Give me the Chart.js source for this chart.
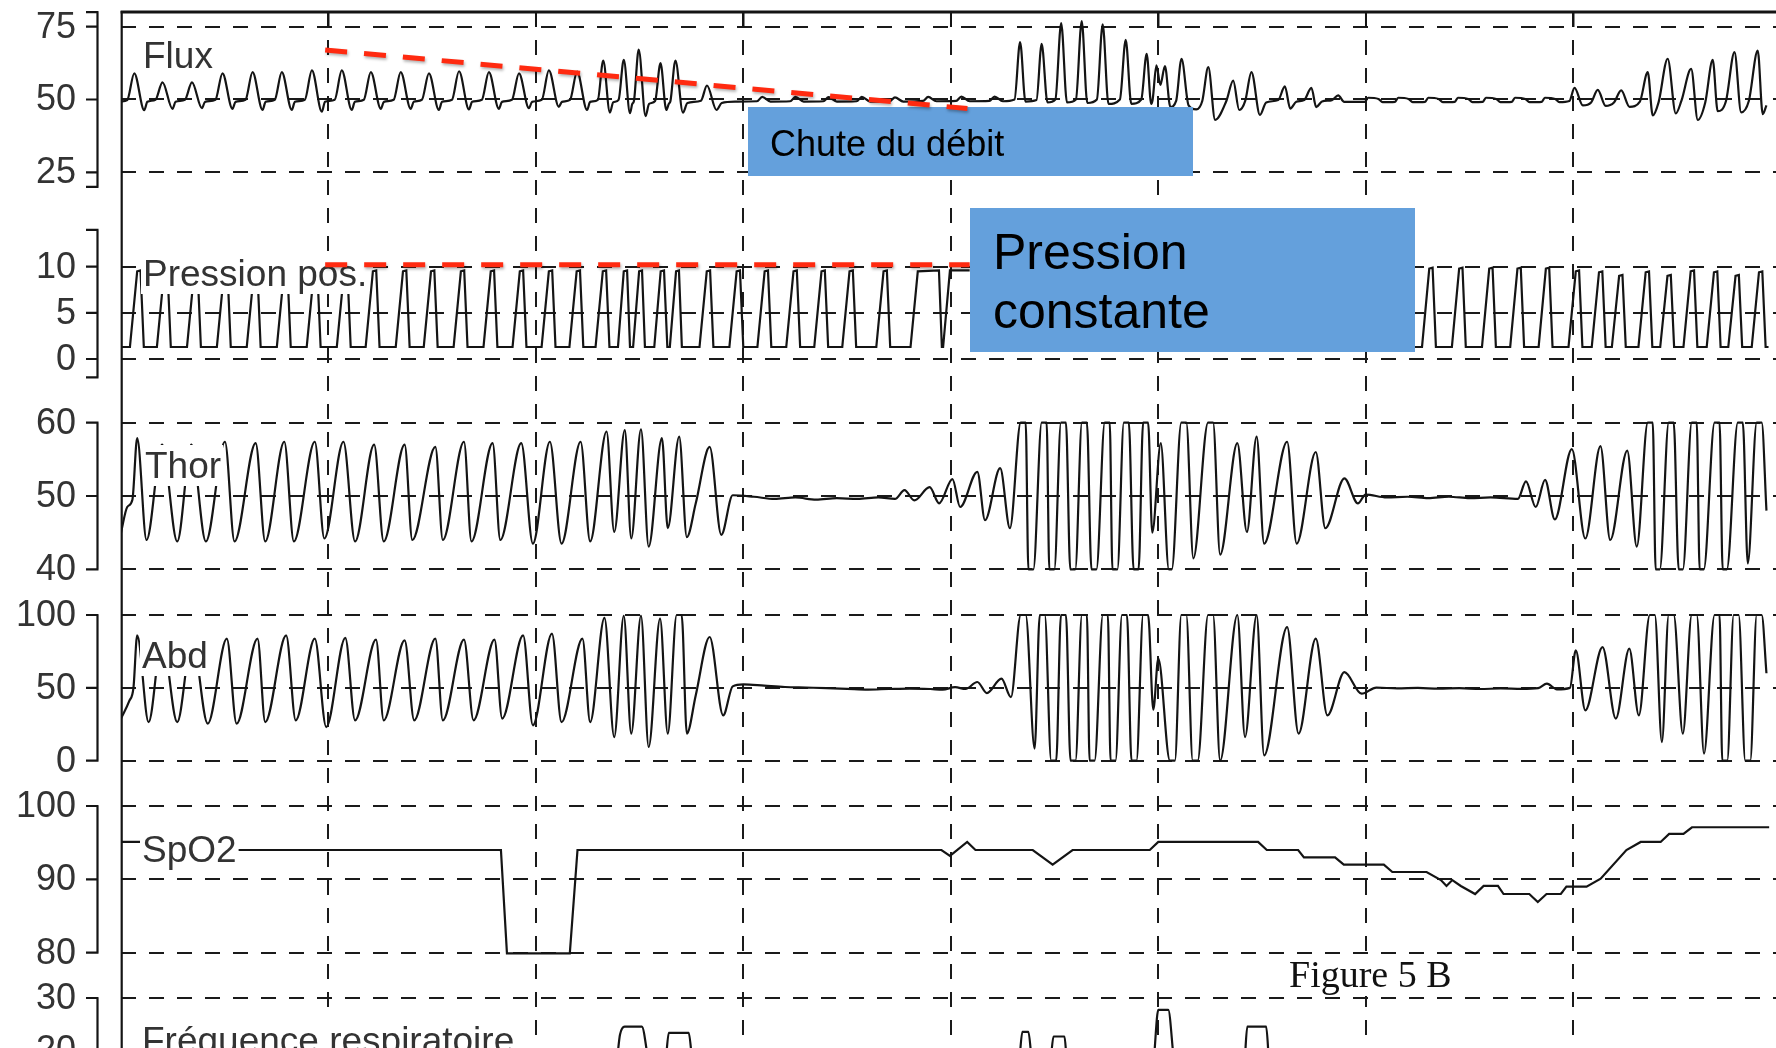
<!DOCTYPE html>
<html lang="fr">
<head>
<meta charset="utf-8">
<title>Figure 5 B</title>
<script src="https://cdn.jsdelivr.net/npm/chart.js@4.4.1/dist/chart.umd.min.js"></script>
<style>
  html, body { margin: 0; padding: 0; background: #fff; overflow: hidden; }
  canvas { display: block; }
</style>
</head>
<body>
<canvas id="trace" width="1776" height="1048"></canvas>
<script>
// time in seconds, dashed epoch line every 10 s
const timeTicks = [10, 20, 30, 40, 50, 60, 70];

const fluxTicks = [25, 50, 75];
const pressionTicks = [0, 5, 10];
const thorTicks = [40, 50, 60];
const abdTicks = [0, 50, 100];
const spo2Ticks = [80, 90, 100];
const freqTicks = [20, 30];

// [t (s), value]
const fluxData = [
  [0, 49.3],
  [0.30, 49.8], [0.64, 59.0], [1.12, 46.3], [1.27, 49.2],
  [1.66, 49.9], [2.00, 55.9], [2.48, 46.8], [2.63, 49.2],
  [3.08, 49.9], [3.42, 55.9], [3.90, 47.0], [4.05, 49.2],
  [4.55, 49.9], [4.89, 59.0], [5.37, 46.8], [5.52, 49.2],
  [6.00, 49.9], [6.34, 59.4], [6.82, 46.4], [6.97, 49.2],
  [7.41, 49.9], [7.75, 59.4], [8.23, 46.4], [8.38, 49.2],
  [8.86, 49.9], [9.20, 60.0], [9.68, 45.8], [9.83, 49.2],
  [10.30, 49.9], [10.64, 60.0], [11.12, 46.4], [11.27, 49.2],
  [11.70, 49.9], [12.04, 59.4], [12.52, 46.8], [12.67, 49.2],
  [13.14, 49.9], [13.48, 59.4], [13.96, 46.8], [14.11, 49.2],
  [14.50, 49.9], [14.84, 59.0], [15.32, 46.4], [15.47, 49.2],
  [15.95, 49.9], [16.29, 59.7], [16.77, 46.6], [16.92, 49.2],
  [17.39, 49.9], [17.73, 59.4], [18.21, 46.8], [18.36, 49.2],
  [18.84, 49.9], [19.18, 59.0], [19.66, 47.0], [19.81, 49.2],
  [20.28, 49.9], [20.62, 60.0], [21.10, 47.5], [21.25, 49.2],
  [21.64, 49.9], [21.98, 59.6], [22.46, 46.4], [22.61, 49.2],
  [22.98, 49.9], [23.24, 63.4], [23.56, 45.5], [23.72, 49.0],
  [23.98, 49.9], [24.23, 63.6], [24.53, 45.3], [24.64, 48.5],
  [24.72, 49.5], [24.95, 67.1], [25.28, 44.3], [25.45, 48.5],
  [25.74, 49.5], [26.00, 62.5], [26.28, 46.4], [26.40, 48.5],
  [26.48, 49.5], [26.72, 63.4], [27.08, 45.5], [27.30, 48.8],
  [27.95, 49.6], [28.24, 54.8], [28.70, 46.4], [28.95, 48.8],
  [29.60, 49.3],
  [30.65, 49.4], [30.90, 50.9], [31.30, 49.3],
  [32.25, 49.4], [32.50, 50.9], [32.90, 49.3],
  [33.85, 49.4], [34.10, 50.8], [34.50, 49.3],
  [35.45, 49.4], [35.70, 50.9], [36.10, 49.3],
  [37.05, 49.4], [37.30, 50.7], [37.70, 49.3],
  [38.65, 49.5], [38.90, 50.9], [39.30, 49.4],
  [40.25, 49.5], [40.50, 51.0], [40.90, 49.4],
  [41.85, 49.5], [42.10, 51.0], [42.50, 49.4],
  [43.06, 50.0], [43.33, 69.7], [43.59, 49.3],
  [44.12, 49.8], [44.37, 69.1], [44.65, 49.0],
  [45.03, 50.0], [45.31, 76.2], [45.59, 49.0],
  [46.02, 50.0], [46.30, 76.9], [46.57, 48.8],
  [47.03, 50.0], [47.31, 75.8], [47.59, 48.5],
  [48.14, 50.0], [48.42, 70.5], [48.69, 48.5],
  [49.17, 50.0], [49.43, 65.7], [49.65, 48.5],
  [49.72, 50.0], [49.90, 61.7], [50.09, 55.0], [50.31, 61.5], [50.57, 47.5],
  [50.85, 49.5], [51.11, 64.0], [51.45, 48.0], [51.82, 46.6], [52.11, 49.5],
  [52.40, 61.1], [52.73, 43.0], [53.27, 49.5],
  [53.60, 56.5], [53.89, 46.4], [54.18, 49.5],
  [54.48, 59.4], [54.89, 44.7], [55.19, 49.0], [55.77, 49.8],
  [56.09, 54.5], [56.35, 46.9], [56.64, 49.2], [57.02, 49.8],
  [57.37, 54.0], [57.60, 47.4], [57.88, 49.3], [58.36, 49.8],
  [58.66, 51.4], [58.95, 49.2],
  [59.95, 49.2], [60.10, 50.6], [60.60, 50.2], [60.80, 49.1],
  [61.40, 49.2], [61.55, 50.6], [62.05, 50.2], [62.25, 49.1],
  [62.85, 49.2], [63.00, 50.6], [63.50, 50.2], [63.70, 49.1],
  [64.28, 49.2], [64.43, 50.6], [64.93, 50.2], [65.13, 49.1],
  [65.63, 49.2], [65.78, 50.6], [66.28, 50.2], [66.48, 49.1],
  [67.03, 49.2], [67.18, 50.6], [67.68, 50.2], [67.88, 49.1],
  [68.47, 49.2], [68.62, 50.6], [69.12, 50.2], [69.32, 49.1],
  [69.80, 49.5], [70.05, 54.0], [70.45, 48.0], [70.85, 49.0],
  [71.17, 53.3], [71.55, 47.8], [71.95, 49.0],
  [72.30, 53.1], [72.70, 47.5], [73.20, 49.3],
  [73.58, 59.4], [73.82, 44.5], [74.10, 49.0],
  [74.54, 64.0], [74.93, 45.2], [75.20, 49.5],
  [75.67, 60.5], [75.99, 43.0], [76.35, 49.0],
  [76.71, 63.6], [76.95, 46.0], [77.35, 49.5],
  [77.76, 66.3], [78.08, 45.6], [78.45, 49.5],
  [78.88, 66.8], [79.12, 45.0], [79.30, 48.0]
];

const pressionData = [
  [0, 1.3],
  [0.43, 1.3], [0.78, 9.5], [0.94, 9.6], [1.10, 1.3],
  [1.73, 1.3], [2.08, 9.5], [2.24, 9.6], [2.40, 1.3],
  [3.18, 1.3], [3.53, 9.5], [3.69, 9.6], [3.85, 1.3],
  [4.62, 1.3], [4.97, 9.5], [5.13, 9.6], [5.29, 1.3],
  [6.06, 1.3], [6.41, 9.5], [6.57, 9.6], [6.73, 1.3],
  [7.51, 1.3], [7.86, 9.5], [8.02, 9.6], [8.18, 1.3],
  [8.95, 1.3], [9.30, 9.5], [9.46, 9.6], [9.62, 1.3],
  [10.40, 1.3], [10.75, 9.5], [10.91, 9.6], [11.07, 1.3],
  [11.79, 1.3], [12.14, 9.5], [12.30, 9.6], [12.46, 1.3],
  [13.24, 1.3], [13.59, 9.5], [13.75, 9.6], [13.91, 1.3],
  [14.59, 1.3], [14.94, 9.5], [15.10, 9.6], [15.26, 1.3],
  [16.03, 1.3], [16.38, 9.5], [16.54, 9.6], [16.70, 1.3],
  [17.47, 1.3], [17.82, 9.5], [17.98, 9.6], [18.14, 1.3],
  [18.87, 1.3], [19.22, 9.5], [19.38, 9.6], [19.54, 1.3],
  [20.27, 1.3], [20.62, 9.5], [20.78, 9.6], [20.94, 1.3],
  [21.61, 1.3], [21.96, 9.5], [22.12, 9.6], [22.28, 1.3],
  [22.87, 1.3], [23.22, 9.5], [23.38, 9.6], [23.54, 1.3],
  [23.95, 1.3], [24.23, 9.5], [24.39, 9.6], [24.53, 1.3],
  [24.68, 1.3], [24.97, 9.5], [25.11, 9.6], [25.25, 1.3],
  [25.70, 1.3], [26.01, 9.5], [26.17, 9.6], [26.33, 1.3],
  [26.45, 1.3], [26.75, 9.5], [26.89, 9.6], [27.03, 1.3],
  [27.88, 1.3], [28.23, 9.5], [28.39, 9.6], [28.55, 1.3],
  [29.32, 1.3], [29.67, 9.5], [29.83, 9.6], [29.99, 1.3],
  [30.67, 1.3], [31.02, 9.5], [31.18, 9.6], [31.34, 1.3],
  [32.06, 1.3], [32.41, 9.5], [32.57, 9.6], [32.73, 1.3],
  [33.41, 1.3], [33.76, 9.5], [33.92, 9.6], [34.08, 1.3],
  [34.76, 1.3], [35.11, 9.5], [35.27, 9.6], [35.43, 1.3],
  [36.40, 1.3], [36.75, 9.5], [36.91, 9.6], [37.07, 1.3],
  [38.05, 1.3], [38.40, 9.5], [39.42, 9.6], [39.56, 1.3],
  [39.62, 1.3], [39.95, 9.6], [40.90, 9.6],
  [40.95, null],
  [62.27, 1.3],
  [62.70, 1.3], [63.05, 9.8], [63.21, 9.9], [63.37, 1.3],
  [64.14, 1.3], [64.49, 9.8], [64.65, 9.9], [64.81, 1.3],
  [65.59, 1.3], [65.94, 9.8], [66.10, 9.9], [66.26, 1.3],
  [66.95, 1.3], [67.30, 9.8], [67.46, 9.9], [67.62, 1.3],
  [68.32, 1.3], [68.67, 9.8], [68.83, 9.9], [68.99, 1.3],
  [69.76, 1.3], [70.11, 9.5], [70.27, 9.6], [70.43, 1.3],
  [70.88, 1.3], [71.23, 9.4], [71.39, 9.5], [71.55, 1.3],
  [71.85, 1.3], [72.20, 9.0], [72.36, 9.1], [72.52, 1.3],
  [73.13, 1.3], [73.48, 9.4], [73.64, 9.5], [73.80, 1.3],
  [74.18, 1.3], [74.53, 9.0], [74.69, 9.1], [74.85, 1.3],
  [75.30, 1.3], [75.65, 9.5], [75.81, 9.6], [75.97, 1.3],
  [76.42, 1.3], [76.77, 9.4], [76.93, 9.5], [77.09, 1.3],
  [77.46, 1.3], [77.81, 9.0], [77.97, 9.1], [78.13, 1.3],
  [78.59, 1.3], [78.94, 9.4], [79.10, 9.5], [79.26, 1.3],
  [79.40, 1.3]
];

const thorData = [
  [0, 45.0], [0.30, 48.5], [0.55, 49.5], [0.78, 57.9], [1.23, 44.0],
  [1.98, 57.0], [2.71, 43.8], [3.39, 57.0], [4.09, 43.8], [5.01, 57.4], [5.47, 43.8],
  [6.49, 57.2], [6.95, 43.8], [7.87, 57.4], [8.33, 43.8], [9.34, 57.4], [9.80, 44.2],
  [10.72, 57.4], [11.28, 43.8], [12.20, 57.0], [12.66, 43.8], [13.67, 57.0], [14.04, 44.0],
  [15.15, 56.7], [15.51, 44.0], [16.53, 57.4], [16.89, 43.8], [17.91, 57.2], [18.28, 44.0],
  [19.29, 57.2], [19.85, 43.5], [20.67, 57.4], [21.23, 43.5], [22.15, 57.4], [22.61, 43.8],
  [23.40, 58.8], [23.77, 45.1], [24.28, 59.0], [24.59, 44.2], [25.06, 59.1], [25.43, 43.1],
  [26.07, 57.9], [26.35, 45.6], [26.90, 58.1], [27.27, 44.4], [27.70, 49.0],
  [28.37, 56.7], [28.93, 44.7], [29.48, 50.1],
  [30.5, 49.9], [31.5, 49.6], [32.5, 49.8], [33.5, 49.5], [34.5, 49.7], [35.5, 49.6],
  [36.5, 49.8], [37.3, 49.6], [37.76, 50.8], [38.23, 49.4], [38.97, 51.2], [39.43, 49.0],
  [40.07, 52.3], [40.44, 48.5], [41.27, 53.3], [41.64, 46.7], [42.37, 53.8], [42.84, 45.6],
  [43.36, 60], [43.60, 60], [43.73, 40], [43.97, 40],
  [44.37, 60], [44.61, 60], [44.74, 40], [44.98, 40],
  [45.30, 60], [45.54, 60], [45.75, 40], [45.99, 40],
  [46.31, 60], [46.55, 60], [46.77, 40], [47.01, 40],
  [47.41, 60], [47.65, 60], [47.78, 40], [48.02, 40],
  [48.33, 60], [48.57, 60], [48.80, 40], [49.04, 40],
  [49.26, 60], [49.50, 60], [49.70, 45.0], [50.11, 57.2], [50.50, 40], [50.64, 40],
  [51.10, 60], [51.34, 60], [51.68, 41.5], [52.39, 60], [52.63, 60], [52.97, 42.0],
  [53.80, 57.2], [54.26, 45.1], [54.73, 58.1], [55.09, 43.5], [56.20, 57.4], [56.66, 43.5],
  [57.58, 56.0], [58.04, 45.6], [58.96, 52.4], [59.61, 49.0],
  [59.98, 50.2], [61.0, 49.8], [62.0, 49.9], [63.0, 49.7], [64.0, 49.9], [65.0, 49.7],
  [66.0, 49.8], [67.32, 49.6], [67.71, 52.0], [68.18, 48.5], [68.63, 52.2], [69.10, 46.8],
  [69.92, 56.4], [70.57, 44.2], [71.30, 56.8], [71.77, 44.0], [72.59, 56.2], [73.05, 43.1],
  [73.58, 60], [73.82, 60], [73.96, 40], [74.16, 40],
  [74.59, 60], [74.83, 60], [75.07, 40], [75.27, 40],
  [75.70, 60], [75.94, 60], [76.08, 40], [76.28, 40],
  [76.80, 60], [77.04, 60], [77.19, 40], [77.39, 40],
  [77.92, 60], [78.16, 60], [78.40, 40.8], [78.83, 60], [79.07, 60], [79.30, 48]
];

const abdData = [
  [0, 29.0], [0.40, 41.0], [0.60, 50.0], [0.78, 86.0], [1.33, 26.5],
  [1.98, 84.0], [2.71, 26.5], [3.43, 84.0], [4.18, 25.4], [5.10, 83.8], [5.57, 25.4],
  [6.58, 83.8], [6.95, 26.5], [7.96, 86.0], [8.42, 27.7], [9.34, 83.8], [9.89, 23.1],
  [10.81, 84.3], [11.28, 27.7], [12.29, 83.1], [12.66, 27.7], [13.67, 82.6], [14.13, 27.7],
  [15.15, 83.8], [15.51, 27.7], [16.53, 83.1], [16.99, 27.7], [18.00, 83.1], [18.37, 28.9],
  [19.38, 86.0], [19.85, 24.3], [20.77, 87.2], [21.23, 26.5], [22.24, 83.8], [22.61, 26.5],
  [23.30, 98.0], [23.77, 16.2], [24.23, 99.5], [24.59, 18.6], [25.06, 99.5], [25.43, 9.4],
  [25.98, 97.5], [26.35, 18.6], [26.78, 100], [27.02, 100], [27.27, 18.6], [27.70, 45.0],
  [28.37, 84.9], [29.02, 31.1], [29.48, 51.0],
  [30.0, 52.4], [31.0, 51.5], [32.0, 50.6], [33.0, 50.2], [34.0, 49.8], [35.0, 49.3],
  [36.0, 48.8], [37.0, 49.2], [38.0, 49.5], [39.0, 49.2], [39.6, 48.8], [40.2, 50.5],
  [40.70, 49.2], [41.27, 54.0], [41.73, 46.4], [42.43, 56.3], [42.89, 43.7],
  [43.36, 100], [43.60, 100], [44.03, 8.3],
  [44.28, 100], [44.52, 100], [44.83, 0], [45.07, 0],
  [45.30, 100], [45.54, 100], [45.76, 0], [46.00, 0],
  [46.31, 100], [46.55, 100], [46.68, 0], [46.92, 0],
  [47.32, 100], [47.56, 100], [47.69, 0], [47.93, 0],
  [48.24, 100], [48.48, 100], [48.70, 0], [48.94, 0],
  [49.26, 100], [49.50, 100], [49.75, 35], [49.99, 70], [50.55, 0], [50.79, 0],
  [51.10, 100], [51.34, 100], [51.65, 0], [51.89, 0],
  [52.39, 100], [52.63, 100], [52.97, 0], [53.80, 100], [54.17, 16.2], [54.73, 100],
  [55.09, 3.7], [56.20, 91.7], [56.75, 18.6], [57.58, 83.8], [58.14, 31.1],
  [58.96, 60.8], [59.79, 46.0],
  [60.5, 50.2], [61.5, 49.6], [62.5, 50.0], [63.5, 49.4], [64.5, 49.8], [65.5, 49.2],
  [66.5, 49.6], [67.5, 49.3], [68.3, 49.8], [68.72, 52.9], [69.2, 49.0], [69.83, 50.0],
  [70.11, 75.7], [70.57, 34.6], [71.40, 78.0], [72.04, 28.9], [72.69, 76.9], [73.15, 31.1],
  [73.68, 100], [73.92, 100], [74.26, 12.8], [74.59, 100], [74.83, 100], [75.27, 18.6],
  [75.70, 100], [75.94, 100], [76.29, 4.8], [76.80, 100], [77.04, 100], [77.17, 0], [77.41, 0],
  [77.72, 100], [77.96, 100], [78.28, 0], [78.52, 0], [78.83, 100], [79.07, 100], [79.30, 60]
];

const spo2Data = [
  [0, 95.1], [3.2, 95.1], [3.3, 94.0], [18.31, 94.0], [18.60, 79.9], [21.63, 79.9],
  [22.00, 94.0], [39.54, 94.0], [39.95, 93.2], [40.78, 95.1], [41.18, 94.0], [43.94, 94.0],
  [44.90, 92.0], [45.86, 94.0], [49.58, 94.0], [49.99, 95.1], [54.80, 95.1], [55.22, 94.0],
  [56.73, 94.0], [57.01, 93.0], [58.51, 93.0], [58.93, 92.0], [60.86, 92.0], [61.27, 91.0],
  [62.92, 91.0], [63.61, 89.9], [63.88, 89.1], [64.16, 89.9], [64.57, 89.1], [65.26, 88.0],
  [65.67, 89.1], [66.36, 89.1], [66.63, 88.0], [67.87, 88.0], [68.28, 86.9], [68.70, 88.0],
  [69.39, 88.0], [69.66, 89.0], [70.63, 89.0], [71.31, 90.1], [72.55, 94.0], [73.24, 95.1],
  [74.20, 95.1], [74.61, 96.2], [75.30, 96.2], [75.71, 97.1], [79.43, 97.1]
];

const freqData = [
  [0, 17], [23.84, 17], [24.05, 23.0], [24.27, 24.5], [25.10, 24.5], [25.51, 17],
  [26.21, 17], [26.40, 23.3], [27.36, 23.3], [27.58, 17],
  [43.25, 17], [43.44, 23.5], [43.73, 23.5], [43.94, 17],
  [44.76, 17], [44.94, 22.6], [45.47, 22.6], [45.61, 17],
  [49.72, 17], [49.99, 27.7], [50.47, 27.7], [50.81, 17],
  [54.12, 17], [54.28, 24.5], [55.19, 24.5], [55.36, 17], [79.7, 17]
];

// hand-drawn trend marks
const fluxTrend = [[9.84, 67.0], [40.79, 46.9]];
const pressionTrend = [[9.84, 10.2], [40.9, 10.2]];

// ---------- layout ----------
const SANS = '"Liberation Sans", Arial, sans-serif';
const SERIF = '"Liberation Serif", "Times New Roman", serif';
const INK = '#141414';
const GRID = '#1a1a1a';
const AREA = { left: 121, top: 12, bottom: 1048 };
const X_MAX = 79.76;

// each strip is pinned by two of its tick values (value, pixel row)
const strips = [
  { id: 'yFlux',  ticks: fluxTicks,     bracket: [20, 80],  pin: [75, 26.7, 25, 172.3] },
  { id: 'yPress', ticks: pressionTicks, bracket: [-2, 14],  pin: [10, 266.7, 0, 359] },
  { id: 'yThor',  ticks: thorTicks,     bracket: [40, 60],  pin: [60, 422.7, 40, 569.3] },
  { id: 'yAbd',   ticks: abdTicks,      bracket: [0, 100],  pin: [100, 615, 0, 760.7] },
  { id: 'ySpo2',  ticks: spo2Ticks,     bracket: [80, 100], pin: [100, 806, 80, 952.7] },
  { id: 'yFreq',  ticks: freqTicks,     bracket: [0, 30],   pin: [30, 998, 20, 1050] }
];

const stripLabels = [
  { text: 'Flux', x: 143, y: 68 },
  { text: 'Pression pos.', x: 143, y: 286 },
  { text: 'Thor', x: 145, y: 478 },
  { text: 'Abd', x: 142, y: 668 },
  { text: 'SpO2', x: 142, y: 862 },
  { text: 'Fréquence respiratoire', x: 142, y: 1053 }
];

const chuteBox = { x: 748, y: 107, w: 445, h: 69, lines: [{ text: 'Chute du débit', x: 770, y: 156, size: 36 }] };
const constBox = { x: 970, y: 208, w: 445, h: 144, lines: [
  { text: 'Pression', x: 993, y: 269, size: 50 },
  { text: 'constante', x: 993, y: 328, size: 50 }
] };

function stripRange(pin) {
  const [v1, y1, v2, y2] = pin;
  const k = (v1 - v2) / (y2 - y1);
  return { min: v1 - (AREA.bottom - y1) * k, max: v1 + (y1 - AREA.top) * k };
}

function flatten(axis) {
  if (axis.isHorizontal()) axis.height = 0; else axis.width = 0;
  axis.paddingTop = axis.paddingBottom = axis.paddingLeft = axis.paddingRight = 0;
}

const toXY = pts => pts.map(p => ({ x: p[0], y: p[1] }));

const scales = {
  x: {
    type: 'linear', min: 0, max: X_MAX, bounds: 'data',
    afterBuildTicks: axis => { axis.ticks = timeTicks.map(v => ({ value: v })); },
    afterFit: flatten,
    ticks: { display: false },
    grid: { color: GRID, lineWidth: 2, drawTicks: false },
    border: { display: false, dash: [15, 13] }
  }
};
strips.forEach(s => {
  const r = stripRange(s.pin);
  scales[s.id] = {
    type: 'linear', position: 'left', min: r.min, max: r.max, bounds: 'data',
    afterBuildTicks: axis => { axis.ticks = s.ticks.map(v => ({ value: v })); },
    afterFit: flatten,
    // the strips share one zero-width column, so their numbers are written by the frame plugin
    ticks: { display: false },
    grid: { color: GRID, lineWidth: 2, drawTicks: false },
    border: { display: false, dash: [15, 13] }
  };
});

const trace = (data, axis, extra) => Object.assign({
  data: toXY(data), yAxisID: axis, order: 1,
  borderColor: INK, borderWidth: 2.2, pointRadius: 0, fill: false,
  cubicInterpolationMode: 'monotone', spanGaps: false
}, extra || {});

const trend = (data, axis) => ({
  data: toXY(data), yAxisID: axis, order: 0, trend: true,
  borderColor: '#ff2a10', borderWidth: 5, borderDash: [22, 17],
  pointRadius: 0, fill: false, tension: 0
});

// ---------- overlay drawing ----------
function drawStripLabels(ctx) {
  ctx.save();
  ctx.font = '37px ' + SANS;
  ctx.textBaseline = 'alphabetic';
  stripLabels.forEach(l => {
    const w = ctx.measureText(l.text).width;
    ctx.fillStyle = '#fff';
    ctx.fillRect(l.x - 2, l.y - 33, w + 4, 41);
    ctx.fillStyle = '#333';
    ctx.fillText(l.text, l.x, l.y);
  });
  ctx.restore();
}

function drawBox(ctx, b) {
  ctx.save();
  ctx.fillStyle = '#64a0dc';
  ctx.fillRect(b.x, b.y, b.w, b.h);
  ctx.fillStyle = '#000';
  ctx.textBaseline = 'alphabetic';
  b.lines.forEach(l => {
    ctx.font = l.size + 'px ' + SANS;
    ctx.fillText(l.text, l.x, l.y);
  });
  ctx.restore();
}

function drawFrame(chart) {
  const ctx = chart.ctx;
  ctx.save();
  ctx.strokeStyle = INK;
  ctx.lineWidth = 2.2;
  // axis brackets, their ticks and numbers
  ctx.font = '36px ' + SANS;
  ctx.fillStyle = '#333';
  ctx.textAlign = 'right';
  ctx.textBaseline = 'middle';
  strips.forEach(s => {
    const sc = chart.scales[s.id];
    const yTop = sc.getPixelForValue(s.bracket[1]);
    const yBot = sc.getPixelForValue(s.bracket[0]);
    ctx.beginPath();
    ctx.moveTo(97.5, yTop);
    ctx.lineTo(97.5, yBot);
    s.bracket.concat(s.ticks).forEach(v => {
      const y = sc.getPixelForValue(v);
      ctx.moveTo(86, y);
      ctx.lineTo(98.5, y);
    });
    ctx.stroke();
    s.ticks.forEach(v => ctx.fillText(String(v), 76, sc.getPixelForValue(v) + 1));
  });
  // left and top edges of the plotting area
  ctx.beginPath();
  ctx.moveTo(121.7, 11);
  ctx.lineTo(121.7, 1048);
  ctx.stroke();
  ctx.lineWidth = 3;
  ctx.beginPath();
  ctx.moveTo(120.6, 12);
  ctx.lineTo(1776, 12);
  ctx.stroke();
  ctx.lineWidth = 2;
  ctx.beginPath();
  timeTicks.forEach(t => {
    const x = chart.scales.x.getPixelForValue(t);
    ctx.moveTo(x, 12);
    ctx.lineTo(x, 27);
  });
  ctx.stroke();
  ctx.restore();
}

function drawFigureTag(ctx) {
  ctx.save();
  ctx.font = '38px ' + SERIF;
  const w = ctx.measureText('Figure 5 B').width;
  ctx.fillStyle = '#fff';
  ctx.fillRect(1285, 956, w + 8, 40);
  ctx.fillStyle = '#111';
  ctx.fillText('Figure 5 B', 1289, 987);
  ctx.restore();
}

let overlayDone = false;
const overlays = {
  id: 'overlays',
  beforeDatasetsDraw() { overlayDone = false; },
  beforeDatasetDraw(chart, args) {
    const ds = chart.data.datasets[args.index];
    if (!ds.trend) return;
    if (!overlayDone) {
      drawStripLabels(chart.ctx);
      drawBox(chart.ctx, chuteBox);
      overlayDone = true;
    }
    chart.ctx.save();
    chart.ctx.shadowColor = 'rgba(0,0,0,0.3)';
    chart.ctx.shadowBlur = 3;
    chart.ctx.shadowOffsetX = 1;
    chart.ctx.shadowOffsetY = 2;
  },
  afterDatasetDraw(chart, args) {
    if (chart.data.datasets[args.index].trend) chart.ctx.restore();
  },
  afterDatasetsDraw(chart) {
    drawBox(chart.ctx, constBox);
    drawFigureTag(chart.ctx);
    drawFrame(chart);
  }
};

new Chart(document.getElementById('trace'), {
  type: 'line',
  data: {
    datasets: [
      trace(fluxData, 'yFlux'),
      trace(pressionData, 'yPress', { cubicInterpolationMode: 'default', tension: 0 }),
      trace(thorData, 'yThor'),
      trace(abdData, 'yAbd'),
      trace(spo2Data, 'ySpo2', { cubicInterpolationMode: 'default', tension: 0 }),
      trace(freqData, 'yFreq'),
      trend(fluxTrend, 'yFlux'),
      trend(pressionTrend, 'yPress')
    ]
  },
  options: {
    responsive: false,
    animation: false,
    devicePixelRatio: 1,
    events: [],
    layout: { padding: { left: AREA.left, top: AREA.top, right: 0, bottom: 0 } },
    plugins: { legend: { display: false }, tooltip: { enabled: false } },
    scales: scales
  },
  plugins: [overlays]
});
</script>
</body>
</html>
